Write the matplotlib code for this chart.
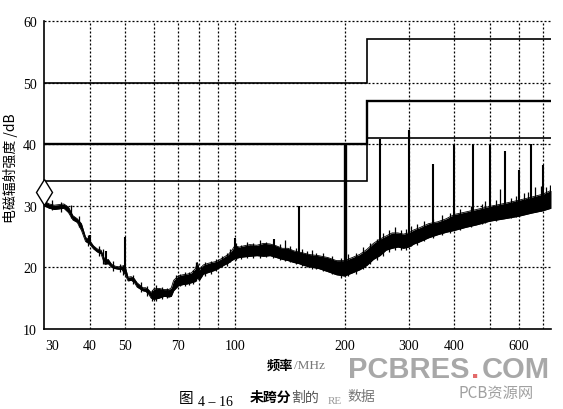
import numpy as np
import matplotlib
matplotlib.use("Agg")
import matplotlib.pyplot as plt
from matplotlib.transforms import ScaledTranslation

# ---- data ----
freq = [30, 31, 32, 33, 34, 35, 36, 37, 38, 39, 40, 41, 42, 43, 44, 45, 46, 47, 48, 49,
        50, 51, 52, 53, 54, 55, 56, 57, 58, 59, 60, 62, 64, 66, 67, 68, 70, 72, 74, 76,
        78, 79, 80, 82, 85, 88, 90, 93, 96, 98, 100, 103, 106, 110, 115, 120, 125, 130,
        135, 140, 145, 150, 155, 160, 170, 180, 190, 200, 210, 220, 230, 240, 250, 260,
        270, 280, 290, 300, 310, 320, 340, 360, 380, 400, 430, 460, 500, 550, 600, 650,
        700, 736]
level_low = [30.0, 29.6, 29.4, 29.5, 29.6, 28.9, 27.7, 27.3, 26.0, 24.2, 23.8, 23.0, 22.5,
             22.2, 20.5, 20.6, 20.0, 19.8, 19.7, 19.7, 18.9, 17.8, 17.9, 17.6, 16.8, 16.5,
             16.2, 16.1, 15.7, 15.0, 14.8, 15.0, 15.3, 15.2, 15.3, 16.2, 17.0, 17.2, 17.3,
             17.5, 17.7, 18.3, 17.9, 18.9, 19.2, 19.5, 19.8, 20.3, 20.7, 21.1, 21.4, 21.6,
             21.7, 21.8, 21.9, 21.8, 21.9, 21.6, 21.3, 21.1, 20.8, 20.6, 20.3, 20.1, 19.8,
             19.3, 18.8, 18.6, 19.1, 19.6, 20.3, 21.3, 21.9, 22.8, 23.1, 23.3, 23.1, 23.3,
             23.8, 24.1, 24.8, 25.3, 25.7, 26.0, 26.5, 26.9, 27.5, 27.9, 28.3, 28.8, 29.2,
             29.6]
level_high = [30.8, 30.3, 30.1, 30.2, 30.3, 29.8, 28.4, 27.9, 27.1, 24.9, 24.4, 23.5, 23.0,
              22.8, 21.3, 21.3, 20.5, 20.2, 20.1, 20.2, 20.3, 18.4, 18.5, 18.2, 17.5, 17.1,
              16.7, 16.7, 16.4, 15.9, 16.5, 16.6, 16.4, 16.4, 16.7, 17.9, 18.6, 18.8, 18.9,
              19.1, 19.8, 20.8, 19.6, 20.4, 20.7, 20.9, 21.1, 21.6, 22.1, 22.7, 23.5, 23.3,
              23.5, 23.7, 23.6, 23.9, 23.8, 23.5, 23.1, 23.1, 22.7, 22.5, 22.3, 22.1, 21.9,
              21.6, 21.1, 21.1, 21.6, 22.1, 22.9, 23.9, 24.6, 25.1, 25.6, 25.6, 25.4, 25.6,
              26.1, 26.4, 27.1, 27.4, 27.9, 28.6, 29.0, 29.4, 29.9, 30.4, 30.9, 31.4, 31.9,
              32.5]

# small noise peaks riding on the trace (frequency, lowest, highest)
grass_freq = [31.5, 33.5, 35.5, 37.5, 39.5, 42.5, 43.5, 46.5, 48.5, 49.5, 52.5, 55.5, 57.5,
              59.5, 61, 63, 65, 69, 71, 73, 75, 77, 78.5, 81, 83, 86, 89, 92, 95, 97, 101,
              104, 108, 112, 117, 122, 127, 133, 137, 142, 147, 153, 158, 163, 167, 175,
              185, 195, 205, 215, 225, 235, 245, 255, 265, 275, 285, 295, 305, 315, 330,
              350, 370, 390, 415, 445, 475, 485, 520, 535, 570, 590, 620, 635, 665, 690,
              715, 730]
grass_low = [29.3, 29.0, 28.0, 26.5, 23.5, 21.8, 20.5, 19.4, 19.2, 18.8, 17.3, 16.0, 15.4,
             14.6, 14.6, 14.9, 15.0, 16.8, 17.0, 17.0, 17.2, 17.3, 17.8, 18.4, 18.6, 19.0,
             19.4, 20.0, 20.3, 20.8, 21.2, 21.4, 21.5, 21.6, 21.6, 21.7, 21.6, 21.2, 21.0,
             20.9, 20.6, 20.2, 20.0, 19.8, 19.7, 19.4, 18.9, 18.3, 18.6, 19.0, 19.7, 20.6,
             21.2, 21.9, 22.5, 22.8, 22.8, 22.9, 23.5, 23.7, 24.3, 24.8, 25.3, 25.6, 26.0,
             26.6, 27.0, 27.2, 27.6, 27.8, 28.0, 28.2, 28.6, 28.8, 29.0, 29.2, 29.5, 29.8]
grass_high = [30.9, 30.6, 30.2, 28.4, 25.2, 23.5, 23.0, 21.0, 20.6, 20.4, 18.8, 17.6, 17.0,
              16.4, 17.1, 16.8, 16.6, 18.8, 19.0, 19.2, 19.3, 19.6, 20.8, 20.3, 20.8, 21.0,
              21.4, 21.8, 22.4, 23.0, 24.0, 23.6, 24.2, 24.0, 24.4, 24.1, 24.0, 23.8, 24.5,
              23.5, 23.2, 23.0, 22.6, 22.8, 22.3, 22.4, 21.9, 21.6, 22.2, 22.4, 23.3, 24.0,
              24.6, 25.6, 26.0, 26.5, 26.0, 26.3, 26.8, 27.0, 27.6, 27.8, 28.5, 28.8, 29.5,
              30.0, 30.3, 30.8, 31.0, 32.7, 31.3, 31.6, 32.0, 32.2, 33.0, 33.2, 33.0, 33.4]

spike_freq = [40, 44.5, 50, 100, 128, 150, 200, 250, 300, 350, 400, 450, 500, 550, 600, 650, 700]
spike_base = [24.0, 21.0, 19.5, 22.5, 23.0, 22.0, 20.0, 23.5, 25.0, 26.5, 27.5, 28.5, 29.0,
              29.5, 30.0, 30.5, 31.0]
spike_top = [25.3, 22.6, 25.0, 24.8, 24.6, 30.0, 40.2, 40.8, 42.3, 36.8, 40.0, 40.0, 40.0,
             38.9, 35.8, 40.0, 36.6]

# limit lines: (level below 230 MHz, level above 230 MHz)
limit_break = 230
limit_low_band = [34, 40, 50]
limit_high_band = [41, 47, 57]

marker_freq = 30
marker_level = 32.2

xticks = [30, 40, 50, 70, 100, 200, 300, 400, 600]
xgrid = [40, 50, 60, 70, 80, 90, 100, 200, 300, 400, 500, 600, 700]
yticks = [10, 20, 30, 40, 50, 60]
x_range = (30, 736)
y_range = (10, 60)

# ---- figure ----
W, H = 563, 410
fig = plt.figure(figsize=(W / 100, H / 100), dpi=100)
ax = fig.add_axes([44 / W, 1 - 330 / H, (551 - 44) / W, (330 - 22) / H])
ax.set_xscale("log")
ax.set_xlim(*x_range)
ax.set_ylim(*y_range)

dot = (0, (1.6, 1.6))
for g in xgrid:
    ax.axvline(g, color="black", lw=0.9, ls=dot, zorder=1)
for g in yticks[1:]:
    ax.axhline(g, color="black", lw=0.9, ls=dot, zorder=1, clip_on=False)

# emission trace
ax.fill_between(freq, level_low, level_high, color="black", lw=0, zorder=3)
ax.plot(freq, level_low, color="black", lw=0.6, zorder=3)
ax.plot(freq, level_high, color="black", lw=0.6, zorder=3)
ax.vlines(grass_freq, grass_low, grass_high, color="black", lw=0.9, zorder=3)
widths = [1.5] * len(spike_freq)
widths[spike_freq.index(200)] = 2.4
ax.vlines(spike_freq, spike_base, spike_top, color="black", lw=widths, zorder=3)

# limit lines
for lo, hi in zip(limit_low_band, limit_high_band):
    lw = 1.7 if lo == 40 else 1.2
    ax.plot([x_range[0], limit_break, limit_break, x_range[1]], [lo, lo, hi, hi],
            color="black", lw=lw, zorder=4, solid_joinstyle="miter")

ax.plot([marker_freq], [marker_level], marker="d", ms=13, mfc="white", mec="black",
        mew=1.0, clip_on=False, zorder=6)

for s in ["top", "right"]:
    ax.spines[s].set_visible(False)
ax.spines["left"].set_linewidth(1.2)
ax.spines["bottom"].set_linewidth(1.2)

ax.set_xticks(xticks)
ax.set_xticklabels([str(t) for t in xticks])
ax.xaxis.set_minor_locator(matplotlib.ticker.NullLocator())
ax.set_yticks(yticks)
ax.tick_params(length=0, labelsize=10)
ax.tick_params(axis="x", pad=7)
ax.tick_params(axis="y", pad=5)
for lab in ax.get_xticklabels() + ax.get_yticklabels():
    lab.set_fontfamily("Liberation Serif")
off = ScaledTranslation(8 / 100, 0, fig.dpi_scale_trans)
first = ax.get_xticklabels()[0]
first.set_transform(first.get_transform() + off)

cjk = ["Noto Sans CJK SC", "DejaVu Sans"]
fig.text(10 / W, 1 - 168 / H, "电磁辐射强度 /dB", rotation=90, ha="center", va="center",
         fontsize=10, family=cjk)
fig.text(280 / W, 1 - 366 / H, "频率", ha="center", va="center", fontsize=9.5,
         family=cjk, fontweight="bold")
fig.text(294 / W, 1 - 366 / H, "/MHz", ha="left", va="center", fontsize=9.5,
         family="Liberation Serif", color="#777777")

# caption
fig.text(186 / W, 1 - 399 / H, "图", ha="center", va="center", fontsize=10.5, family=cjk)
fig.text(215 / W, 1 - 403 / H, "4 – 16", ha="center", va="center", fontsize=10,
         family="Liberation Serif")
fig.text(250 / W, 1 - 398 / H, "未跨分", ha="left", va="center", fontsize=10,
         family=cjk, fontweight="bold")
fig.text(291 / W, 1 - 398 / H, "割的", ha="left", va="center", fontsize=10,
         family=cjk, color="#555555")
fig.text(335 / W, 1 - 402 / H, "RE", ha="center", va="center", fontsize=8,
         family="Liberation Serif", color="#999999")
fig.text(361 / W, 1 - 397 / H, "数据", ha="center", va="center", fontsize=10,
         family=cjk, color="#777777")

# watermark
wm = dict(va="center", fontsize=21, family="Liberation Sans",
          fontweight="bold", color="#a8a8a8")
fig.text(470 / W, 1 - 370 / H, "PCBRES", ha="right", **wm)
fig.text(471 / W, 1 - 370 / H, ".", ha="left", **{**wm, "color": "#e36a6a"})
fig.text(482 / W, 1 - 370 / H, "COM", ha="left", **wm)
fig.text(496 / W, 1 - 394 / H, "PCB资源网", ha="center", va="center", fontsize=11,
         family=cjk, color="#a0a0a0")

fig.savefig("out.png", dpi=100)
